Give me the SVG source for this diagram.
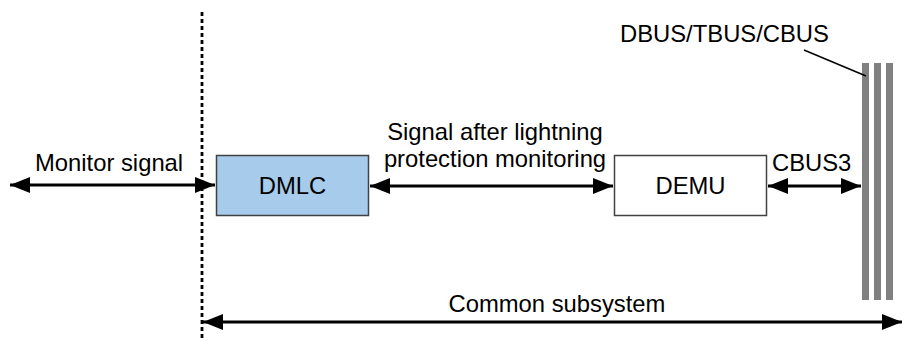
<svg xmlns="http://www.w3.org/2000/svg" width="904" height="341" viewBox="0 0 904 341">
<style>
text{font-family:"Liberation Sans",Arial,sans-serif;font-size:23.8px;fill:#000}
.box{stroke:#404040;stroke-width:1.5}
.conn{stroke:#000;stroke-width:3;fill:none}
.bar{fill:#808080}
</style>
<defs>
<marker id="ah" markerUnits="userSpaceOnUse" markerWidth="22" markerHeight="16" refX="20" refY="8" orient="auto-start-reverse" viewBox="0 0 22 16">
<path d="M0,0 L20,8 L0,16 Z" fill="#000"/>
</marker>
</defs>
<line x1="202" y1="12" x2="202" y2="341" stroke="#000" stroke-width="2.8" stroke-dasharray="4 3"/>
<g id="bus">
<rect class="bar" x="862" y="63" width="7" height="237"/>
<rect class="bar" x="874" y="63" width="7" height="237"/>
<rect class="bar" x="886" y="63" width="7" height="237"/>
<text x="620" y="42">DBUS/TBUS/CBUS</text>
<line x1="804" y1="50" x2="866" y2="76" stroke="#000" stroke-width="1.5"/>
</g>
<g id="dmlc">
<rect class="box" x="216.5" y="155.5" width="152" height="60" fill="#a7cbeb"/>
<text x="292.5" y="193.5" text-anchor="middle">DMLC</text>
</g>
<g id="demu">
<rect class="box" x="614.5" y="155.5" width="152" height="60" fill="#fff"/>
<text x="690.5" y="193.5" text-anchor="middle">DEMU</text>
</g>
<g id="connectors">
<line class="conn" x1="10" y1="185" x2="215" y2="185" marker-start="url(#ah)" marker-end="url(#ah)"/>
<line class="conn" x1="370" y1="186" x2="613" y2="186" marker-start="url(#ah)" marker-end="url(#ah)"/>
<line class="conn" x1="768" y1="186" x2="861" y2="186" marker-start="url(#ah)" marker-end="url(#ah)"/>
<line class="conn" x1="203" y1="322" x2="902" y2="322" marker-start="url(#ah)" marker-end="url(#ah)"/>
<text x="35" y="171">Monitor signal</text>
<text x="495" y="140" text-anchor="middle">Signal after lightning</text>
<text x="495" y="167" text-anchor="middle">protection monitoring</text>
<text x="772" y="171">CBUS3</text>
<text x="557" y="312" text-anchor="middle">Common subsystem</text>
</g>
</svg>
